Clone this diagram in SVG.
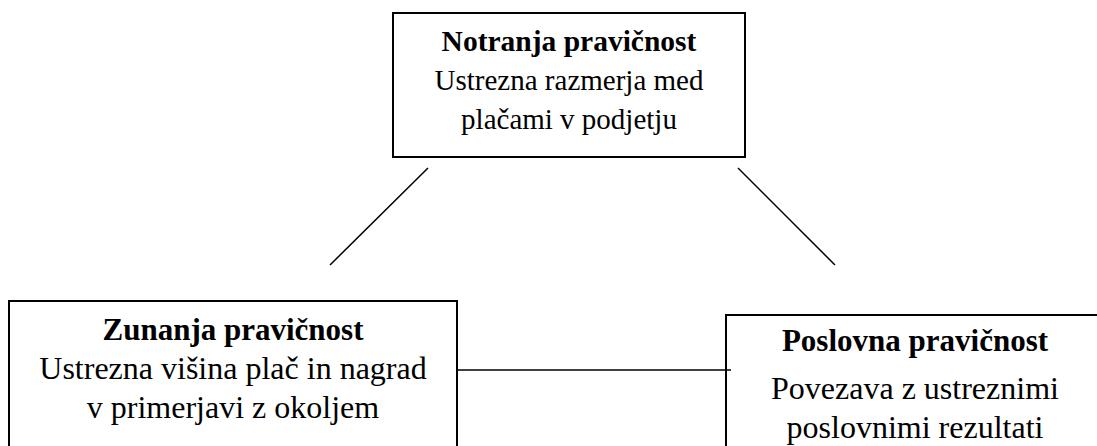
<svg xmlns="http://www.w3.org/2000/svg" width="1097" height="446" viewBox="0 0 1097 446">
<style>
.box{fill:#fff;stroke:#000;stroke-width:2}
.t{font-family:"Liberation Serif","Times New Roman",serif;fill:#000;text-anchor:middle}
.b{font-weight:bold}
.top{font-size:29px}
.topb{font-size:29.5px}
.low{font-size:32px}
.lowb{font-size:31px}
.c line{stroke:#000;stroke-width:1.5}
</style>
<rect width="1097" height="446" fill="#fff"/>
<g id="notranja">
<rect class="box" x="393" y="13" width="352" height="144"/>
<text class="t b topb" x="569" y="51">Notranja pravičnost</text>
<text class="t top" x="569" y="90">Ustrezna razmerja med</text>
<text class="t top" x="569" y="129">plačami v podjetju</text>
</g>
<g id="zunanja">
<rect class="box" x="9" y="301" width="448" height="160"/>
<text class="t b lowb" x="233" y="340">Zunanja pravičnost</text>
<text class="t low" x="233" y="379">Ustrezna višina plač in nagrad</text>
<text class="t low" x="233" y="418">v primerjavi z okoljem</text>
</g>
<g id="poslovna">
<rect class="box" x="726" y="315" width="380" height="160"/>
<text class="t b lowb" x="915" y="351">Poslovna pravičnost</text>
<text class="t low" x="915" y="399">Povezava z ustreznimi</text>
<text class="t low" x="915" y="438">poslovnimi rezultati</text>
</g>
<g class="c" id="connectors">
<line x1="428" y1="168" x2="330" y2="265"/>
<line x1="738" y1="168" x2="835" y2="265"/>
<line x1="457" y1="370" x2="731" y2="370"/>
</g>
</svg>
